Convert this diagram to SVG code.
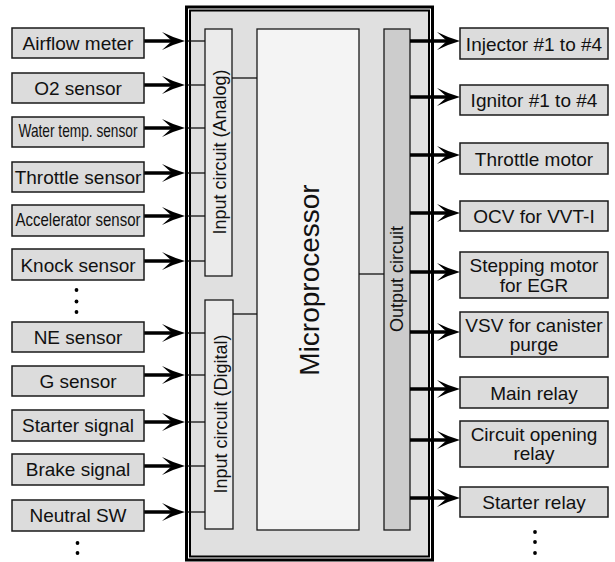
<svg xmlns="http://www.w3.org/2000/svg" width="615" height="562" viewBox="0 0 615 562">
<defs>
<style>
.node rect{fill:#dcdcdc;stroke:#1a1a1a;stroke-width:1.5}
.t{font-family:"Liberation Sans",Arial,sans-serif;font-size:19px;fill:#111;text-anchor:middle}
.lbl{font-family:"Liberation Sans",Arial,sans-serif;fill:#111;text-anchor:middle}
.thick{stroke:#000;stroke-width:3.5;fill:none}
.thin{stroke:#111;stroke-width:1.3;fill:none}
.dot{fill:#000}
</style>
<marker id="ah" markerUnits="userSpaceOnUse" viewBox="-12 -10 26 20" refX="0" refY="0" markerWidth="26" markerHeight="20" orient="auto" overflow="visible">
<path d="M13,0 Q2,-3 -10,-9 L0,0 L-10,9 Q2,3 13,0 Z" fill="#000"/>
</marker>
</defs>
<rect width="615" height="562" fill="#fff"/>

<g id="ecu">
<rect x="186.5" y="7" width="246" height="553" fill="#fff" stroke="#000" stroke-width="3"/>
<rect x="190" y="10.5" width="239" height="546" fill="#e0e0e0" stroke="#000" stroke-width="2"/>
</g>
<g id="input-analog">
<rect x="205" y="29" width="27" height="247" fill="#ebebeb" stroke="#1a1a1a" stroke-width="1.3"/>
<text class="lbl" font-size="18" transform="translate(226,152) rotate(-90)">Input circuit (Analog)</text>
</g>
<g id="input-digital">
<rect x="205" y="300" width="28" height="229" fill="#ebebeb" stroke="#1a1a1a" stroke-width="1.3"/>
<text class="lbl" font-size="18" transform="translate(227,414) rotate(-90)">Input circuit (Digital)</text>
</g>
<g id="microprocessor">
<rect x="257" y="29" width="102" height="501" fill="#f4f4f4" stroke="#1a1a1a" stroke-width="1.3"/>
<text class="lbl" font-size="28" transform="translate(319,280) rotate(-90)">Microprocessor</text>
</g>
<g id="output-circuit">
<rect x="384" y="29" width="26" height="501" fill="#cccccc" stroke="#1a1a1a" stroke-width="1.3"/>
<text class="lbl" font-size="18" transform="translate(403,279) rotate(-90)">Output circuit</text>
</g>

<g id="connectors">
<line class="thin" x1="232" y1="78" x2="257" y2="78"/>
<line class="thin" x1="233" y1="314" x2="257" y2="314"/>
<line class="thin" x1="359" y1="274" x2="384" y2="274"/>
<g marker-end="url(#ah)">
<line class="thick" x1="144" y1="41" x2="172" y2="41"/>
<line class="thick" x1="144" y1="85" x2="172" y2="85"/>
<line class="thick" x1="144" y1="128" x2="172" y2="128"/>
<line class="thick" x1="144" y1="173" x2="172" y2="173"/>
<line class="thick" x1="144" y1="216" x2="172" y2="216"/>
<line class="thick" x1="144" y1="261" x2="172" y2="261"/>
<line class="thick" x1="144" y1="333" x2="172" y2="333"/>
<line class="thick" x1="144" y1="375" x2="172" y2="375"/>
<line class="thick" x1="144" y1="422" x2="172" y2="422"/>
<line class="thick" x1="144" y1="466" x2="172" y2="466"/>
<line class="thick" x1="144" y1="512" x2="172" y2="512"/>
</g>
<line class="thin" x1="188" y1="41" x2="205" y2="41"/>
<line class="thin" x1="188" y1="85" x2="205" y2="85"/>
<line class="thin" x1="188" y1="128" x2="205" y2="128"/>
<line class="thin" x1="188" y1="173" x2="205" y2="173"/>
<line class="thin" x1="188" y1="216" x2="205" y2="216"/>
<line class="thin" x1="188" y1="261" x2="205" y2="261"/>
<line class="thin" x1="188" y1="333" x2="205" y2="333"/>
<line class="thin" x1="188" y1="375" x2="205" y2="375"/>
<line class="thin" x1="188" y1="422" x2="205" y2="422"/>
<line class="thin" x1="188" y1="466" x2="205" y2="466"/>
<line class="thin" x1="188" y1="512" x2="205" y2="512"/>
<g marker-end="url(#ah)">
<line class="thick" x1="410" y1="41" x2="447" y2="41"/>
<line class="thick" x1="410" y1="97" x2="447" y2="97"/>
<line class="thick" x1="410" y1="155" x2="447" y2="155"/>
<line class="thick" x1="410" y1="213" x2="447" y2="213"/>
<line class="thick" x1="410" y1="272" x2="447" y2="272"/>
<line class="thick" x1="410" y1="332" x2="447" y2="332"/>
<line class="thick" x1="410" y1="389" x2="447" y2="389"/>
<line class="thick" x1="410" y1="440" x2="447" y2="440"/>
<line class="thick" x1="410" y1="498" x2="447" y2="498"/>
</g>
</g>

<g id="airflow-meter" class="node"><rect x="12" y="28" width="132" height="30"/><text class="t" x="78" y="50">Airflow meter</text></g>
<g id="o2-sensor" class="node"><rect x="12" y="73" width="132" height="30"/><text class="t" x="78" y="94.5">O2 sensor</text></g>
<g id="water-temp-sensor" class="node"><rect x="12" y="117" width="132" height="30"/><text class="t" x="78" y="137" font-size="15" textLength="119" lengthAdjust="spacingAndGlyphs">Water temp. sensor</text></g>
<g id="throttle-sensor" class="node"><rect x="12" y="162" width="132" height="30"/><text class="t" x="78" y="183.5">Throttle sensor</text></g>
<g id="accelerator-sensor" class="node"><rect x="12" y="205" width="132" height="31"/><text class="t" x="78" y="226" font-size="16" textLength="125" lengthAdjust="spacingAndGlyphs">Accelerator sensor</text></g>
<g id="knock-sensor" class="node"><rect x="12" y="249" width="132" height="31"/><text class="t" x="78" y="271.5">Knock sensor</text></g>
<g id="ne-sensor" class="node"><rect x="12" y="322" width="132" height="30"/><text class="t" x="78" y="343.5">NE sensor</text></g>
<g id="g-sensor" class="node"><rect x="12" y="366" width="132" height="30"/><text class="t" x="78" y="387.5">G sensor</text></g>
<g id="starter-signal" class="node"><rect x="12" y="410" width="132" height="31"/><text class="t" x="78" y="432">Starter signal</text></g>
<g id="brake-signal" class="node"><rect x="12" y="454" width="132" height="31"/><text class="t" x="78" y="476">Brake signal</text></g>
<g id="neutral-sw" class="node"><rect x="12" y="500" width="132" height="31"/><text class="t" x="78" y="522">Neutral SW</text></g>

<g id="injector" class="node"><rect x="460" y="28" width="148" height="31"/><text class="t" x="534" y="50.5">Injector #1 to #4</text></g>
<g id="ignitor" class="node"><rect x="460" y="85" width="148" height="30"/><text class="t" x="534" y="107">Ignitor #1 to #4</text></g>
<g id="throttle-motor" class="node"><rect x="460" y="143" width="148" height="31"/><text class="t" x="534" y="165.5">Throttle motor</text></g>
<g id="ocv" class="node"><rect x="460" y="201" width="148" height="30"/><text class="t" x="534" y="223">OCV for VVT-I</text></g>
<g id="stepping-motor" class="node"><rect x="460" y="252" width="148" height="46"/><text class="t" x="534" y="272">Stepping motor</text><text class="t" x="534" y="292">for EGR</text></g>
<g id="vsv" class="node"><rect x="460" y="312" width="148" height="45"/><text class="t" x="534" y="332">VSV for canister</text><text class="t" x="534" y="351">purge</text></g>
<g id="main-relay" class="node"><rect x="460" y="377" width="148" height="31"/><text class="t" x="534" y="399.5">Main relay</text></g>
<g id="circuit-opening-relay" class="node"><rect x="460" y="421" width="148" height="46"/><text class="t" x="534" y="441">Circuit opening</text><text class="t" x="534" y="460">relay</text></g>
<g id="starter-relay" class="node"><rect x="460" y="487" width="148" height="30"/><text class="t" x="534" y="509">Starter relay</text></g>

<g id="ellipses">
<circle class="dot" cx="76.5" cy="290" r="1.9"/>
<circle class="dot" cx="76.5" cy="301.5" r="1.9"/>
<circle class="dot" cx="76.5" cy="312" r="1.9"/>
<circle class="dot" cx="77.5" cy="543" r="1.9"/>
<circle class="dot" cx="77.5" cy="553" r="1.9"/>
<circle class="dot" cx="535" cy="532" r="1.9"/>
<circle class="dot" cx="535" cy="542" r="1.9"/>
<circle class="dot" cx="535" cy="553" r="1.9"/>
</g>
</svg>
